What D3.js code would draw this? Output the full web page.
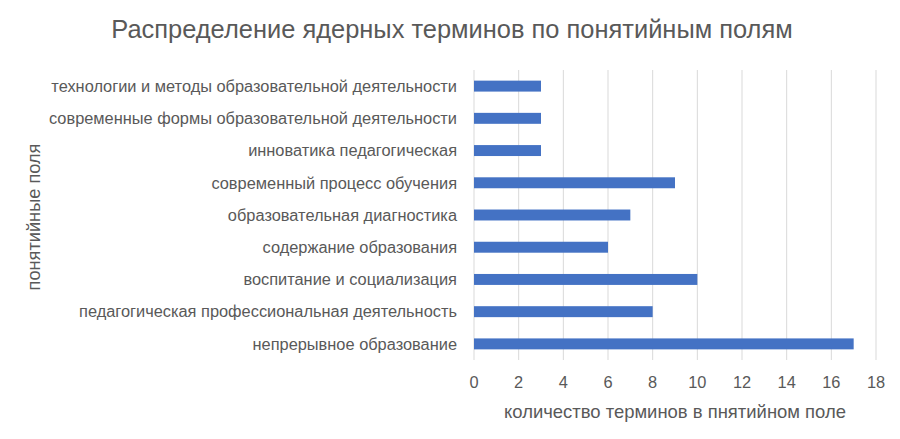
<!DOCTYPE html>
<html><head><meta charset="utf-8">
<script src="https://cdn.jsdelivr.net/npm/d3@7"></script>
<style>body{margin:0;background:#fff}text{font-family:"Liberation Sans","DejaVu Sans",sans-serif;fill:#595959}</style>
</head><body><svg id="c" width="900" height="439"></svg>
<script>
const categories = ["технологии и методы образовательной деятельности","современные формы образовательной деятельности","инноватика педагогическая","современный процесс обучения","образовательная диагностика","содержание образования","воспитание и социализация","педагогическая профессиональная деятельность","непрерывное образование"];
const values = [3,3,3,9,7,6,10,8,17];
const xTicks = [0,2,4,6,8,10,12,14,16,18];
const titleText = "Распределение ядерных терминов по понятийным полям";
const xTitle = "количество терминов в пнятийном поле";
const yTitle = "понятийные поля";

const svg = d3.select("#c");
const m = {l:474, r:876, t:70, b:360};
const x = d3.scaleLinear().domain([0,18]).range([m.l, m.r]);
const y = d3.scaleBand().domain(categories).range([m.t, m.b]).paddingInner(0.66).paddingOuter(0.33);

function fit(sel, w){ const n=sel.node(); const cur=n.getComputedTextLength(); const fs=parseFloat(sel.attr("font-size")); sel.attr("font-size", fs*w/cur); }

// grid
svg.append("g").selectAll("line").data(xTicks).join("line")
  .attr("x1", d=>x(d)).attr("x2", d=>x(d)).attr("y1", m.t).attr("y2", m.b)
  .attr("stroke", "#d9d9d9").attr("stroke-width", 1);

// bars
svg.append("g").selectAll("rect").data(values).join("rect")
  .attr("x", x(0)).attr("y", (d,i)=>y(categories[i]))
  .attr("width", d=>x(d)-x(0)).attr("height", y.bandwidth())
  .attr("fill", "#4472C4");

// tick labels
svg.append("g").selectAll("text").data(xTicks).join("text")
  .attr("x", d=>x(d)).attr("y", 388).attr("text-anchor","middle")
  .attr("font-size", 14).text(d=>d);

// category labels
const cl = svg.append("g").selectAll("text").data(categories).join("text")
  .attr("x", 457).attr("y", d=>y(d)+y.bandwidth()/2).attr("dy","0.35em")
  .attr("text-anchor","end").attr("font-size", 14).text(d=>d);
const longest = cl.filter((d,i)=>i===0);
const fs0 = parseFloat(longest.attr("font-size"));
const ratio = 406/longest.node().getComputedTextLength();
cl.attr("font-size", fs0*ratio);
svg.selectAll("g text").filter(d=>typeof d==="number").attr("font-size", fs0*ratio);

// title
const t = svg.append("text").attr("x", 452).attr("y", 38).attr("text-anchor","middle").attr("font-size", 21).text(titleText);
fit(t, 682);

const xt = svg.append("text").attr("x", 675).attr("y", 418).attr("text-anchor","middle").attr("font-size", 14).text(xTitle);
fit(xt, 342);

const yt = svg.append("text").attr("transform","translate(40,217) rotate(-90)").attr("text-anchor","middle").attr("font-size",14).text(yTitle);
fit(yt, 147);
</script></body></html>
